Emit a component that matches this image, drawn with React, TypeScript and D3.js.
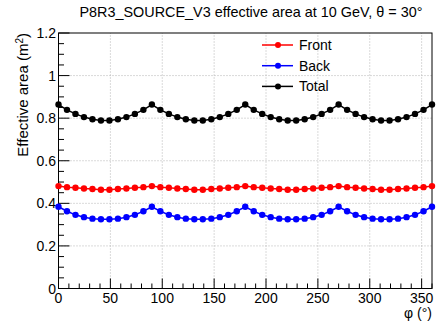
import React, { useRef, useEffect } from "react";
import * as d3 from "d3";

// phi sampled 0..360 in 44 steps
const phi = d3.range(45).map((i) => (i * 360) / 44);

const front = [
  0.481, 0.476, 0.473, 0.470, 0.467, 0.464, 0.464, 0.467, 0.470, 0.473, 0.476,
  0.481, 0.476, 0.473, 0.470, 0.467, 0.464, 0.464, 0.467, 0.470, 0.473, 0.476,
  0.481, 0.476, 0.473, 0.470, 0.467, 0.464, 0.464, 0.467, 0.470, 0.473, 0.476,
  0.481, 0.476, 0.473, 0.470, 0.467, 0.464, 0.464, 0.467, 0.470, 0.473, 0.476,
  0.481,
];
const back = [
  0.384, 0.363, 0.346, 0.335, 0.328, 0.325, 0.325, 0.328, 0.335, 0.346, 0.363,
  0.384, 0.363, 0.346, 0.335, 0.328, 0.325, 0.325, 0.328, 0.335, 0.346, 0.363,
  0.384, 0.363, 0.346, 0.335, 0.328, 0.325, 0.325, 0.328, 0.335, 0.346, 0.363,
  0.384, 0.363, 0.346, 0.335, 0.328, 0.325, 0.325, 0.328, 0.335, 0.346, 0.363,
  0.384,
];
const total = [
  0.864, 0.839, 0.820, 0.805, 0.795, 0.789, 0.789, 0.795, 0.805, 0.820, 0.839,
  0.864, 0.839, 0.820, 0.805, 0.795, 0.789, 0.789, 0.795, 0.805, 0.820, 0.839,
  0.864, 0.839, 0.820, 0.805, 0.795, 0.789, 0.789, 0.795, 0.805, 0.820, 0.839,
  0.864, 0.839, 0.820, 0.805, 0.795, 0.789, 0.789, 0.795, 0.805, 0.820, 0.839,
  0.864,
];

const seriesNames = ["Front", "Back", "Total"];
const seriesColors = ["#ff0000", "#0000ff", "#000000"];
const xTicks = [0, 50, 100, 150, 200, 250, 300, 350];
const yTicks = [0, 0.2, 0.4, 0.6, 0.8, 1, 1.2];

const App = () => {
  const svgRef = useRef<SVGSVGElement>(null);

  useEffect(() => {
    const svg = d3.select(svgRef.current);
    svg.selectAll("*").remove();

    const width = 438;
    const height = 322;
    const margin = { top: 33, right: 6, bottom: 33.5, left: 58.5 };
    const font = "'Liberation Sans', Arial, Helvetica, sans-serif";

    const x = d3
      .scaleLinear()
      .domain([0, 360])
      .range([margin.left, width - margin.right]);
    const y = d3
      .scaleLinear()
      .domain([0, 1.2])
      .range([height - margin.bottom, margin.top]);

    svg.append("rect").attr("width", width).attr("height", height).attr("fill", "#fff");

    // grid
    const grid = svg.append("g").attr("stroke", "#b4b4b4").attr("stroke-dasharray", "1,2");
    xTicks.filter((t) => t > 0).forEach((t) => {
      grid.append("line")
        .attr("x1", x(t)).attr("x2", x(t))
        .attr("y1", y(0)).attr("y2", y(1.2));
    });
    yTicks.filter((t) => t > 0 && t < 1.2).forEach((t) => {
      grid.append("line")
        .attr("x1", x(0)).attr("x2", x(360))
        .attr("y1", y(t)).attr("y2", y(t));
    });

    // ticks (drawn inward like ROOT)
    const ticks = svg.append("g").attr("stroke", "#000").attr("stroke-width", 1);
    d3.range(0, 361, 10).forEach((t) => {
      const len = t % 50 === 0 ? 10 : 5;
      ticks.append("line")
        .attr("x1", x(t)).attr("x2", x(t))
        .attr("y1", y(0)).attr("y2", y(0) - len);
    });
    d3.range(0, 25).forEach((i) => {
      const v = i * 0.05;
      const len = i % 4 === 0 ? 11 : 5.5;
      ticks.append("line")
        .attr("x1", x(0)).attr("x2", x(0) + len)
        .attr("y1", y(v)).attr("y2", y(v));
    });

    // frame
    svg.append("rect")
      .attr("x", x(0)).attr("y", y(1.2))
      .attr("width", x(360) - x(0)).attr("height", y(0) - y(1.2))
      .attr("fill", "none").attr("stroke", "#000").attr("stroke-width", 1);

    // tick labels
    svg.append("g")
      .selectAll("text")
      .data(xTicks)
      .join("text")
      .attr("x", (d) => x(d))
      .attr("y", y(0) + 14)
      .attr("text-anchor", "middle")
      .style("font-family", font)
      .style("font-size", "14px")
      .text((d) => d);

    svg.append("g")
      .selectAll("text")
      .data(yTicks)
      .join("text")
      .attr("x", x(0) - 2.5)
      .attr("y", (d) => y(d) + 5)
      .attr("text-anchor", "end")
      .style("font-family", font)
      .style("font-size", "14px")
      .text((d) => (d === 0 ? "0" : d3.format(".1f")(d)).replace("1.0", "1"));

    // axis titles
    svg.append("text")
      .attr("x", x(360))
      .attr("y", 318)
      .attr("text-anchor", "end")
      .style("font-family", font)
      .style("font-size", "14px")
      .text("φ (°)");

    const yt = svg.append("text")
      .attr("transform", `translate(28,${y(1.2)}) rotate(-90)`)
      .attr("text-anchor", "end")
      .style("font-family", font)
      .style("font-size", "15px");
    yt.append("tspan").text("Effective area (m");
    yt.append("tspan").attr("dy", -5).style("font-size", "10px").text("2");
    yt.append("tspan").attr("dy", 5).text(")");

    // title
    svg.append("text")
      .attr("x", 251)
      .attr("y", 17)
      .attr("text-anchor", "middle")
      .style("font-family", font)
      .style("font-size", "14.4px")
      .text("P8R3_SOURCE_V3 effective area at 10 GeV, θ = 30°");

    // series
    const allSeries = [front, back, total];
    allSeries.forEach((vals, si) => {
      const pts = phi.map((p, i) => [p, vals[i]] as [number, number]);
      const line = d3.line<[number, number]>()
        .x((d) => x(d[0]))
        .y((d) => y(d[1]));
      svg.append("path")
        .datum(pts)
        .attr("fill", "none")
        .attr("stroke", seriesColors[si])
        .attr("stroke-width", 1.5)
        .attr("d", line);
      svg.append("g")
        .selectAll("circle")
        .data(pts)
        .join("circle")
        .attr("cx", (d) => x(d[0]))
        .attr("cy", (d) => y(d[1]))
        .attr("r", 3.2)
        .attr("fill", seriesColors[si]);
    });

    // legend
    seriesNames.forEach((name, i) => {
      const ly = 45 + i * 20.7;
      const g = svg.append("g");
      g.append("line")
        .attr("x1", 262).attr("x2", 293)
        .attr("y1", ly).attr("y2", ly)
        .attr("stroke", seriesColors[i]).attr("stroke-width", 1.5);
      g.append("circle")
        .attr("cx", 278).attr("cy", ly).attr("r", 3)
        .attr("fill", seriesColors[i]);
      g.append("text")
        .attr("x", 299)
        .attr("y", ly + 5)
        .style("font-family", font)
        .style("font-size", "14px")
        .text(name);
    });
  }, []);

  return (
    <svg
      ref={svgRef}
      width={438}
      height={322}
      style={{ position: "absolute", left: 0, top: 0 }}
    ></svg>
  );
};

export default App;
